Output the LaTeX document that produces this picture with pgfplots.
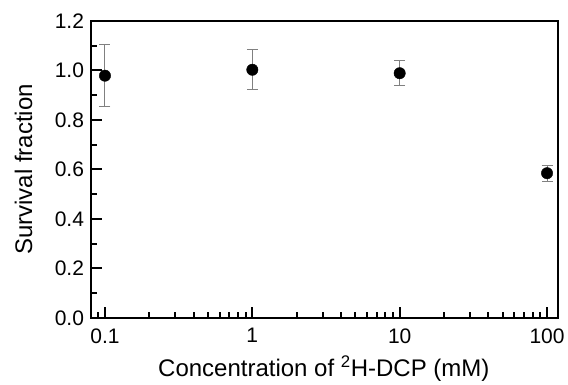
\documentclass[border=0pt]{standalone}
\usepackage{fontspec}
\setmainfont{Liberation Sans}
\usepackage{pgfplots}
\pgfplotsset{compat=1.18}
\begin{document}
\begin{tikzpicture}
\begin{axis}[
  scale only axis, width=467pt, height=297pt,
  xmode=log, xmin=0.0804, xmax=118.7, ymin=0, ymax=1.2,
  xtick={0.1,1,10,100}, xticklabels={0.1,1,10,100},
  minor xtick={0.09,0.2,0.3,0.4,0.5,0.6,0.7,0.8,0.9,2,3,4,5,6,7,8,9,20,30,40,50,60,70,80,90},
  ytick={0,0.2,0.4,0.6,0.8,1.0,1.2},
  minor ytick={0.1,0.3,0.5,0.7,0.9,1.1},
  yticklabel style={/pgf/number format/fixed, /pgf/number format/fixed zerofill, /pgf/number format/precision=1, xshift=-3.5pt},
  /pgf/number format/assume math mode=true,
  tick align=inside, tick pos=left,
  major tick length=11pt, minor tick length=5.5pt,
  axis line style={line width=2pt},
  every tick/.style={black, line width=2pt},
  tick label style={font=\fontsize{21}{24}\selectfont},
  xticklabel style={yshift=-7pt},
  label style={font=\fontsize{24}{28}\selectfont},
  xlabel={Concentration of \textsuperscript{2}H-DCP (mM)},
  ylabel={Survival fraction},
  xlabel style={at={(axis description cs:0.4985,-0.197)}, anchor=base},
  ylabel style={at={(axis description cs:-0.126,0.5)}, anchor=base},
  clip=false,
]
\addplot[only marks, mark=*, mark size=5.7pt, black,
  error bars/.cd, y dir=both, y explicit,
  error bar style={gray, line width=1pt},
  error mark options={gray, line width=1pt, mark size=5.5pt, rotate=90}]
  coordinates {
  (0.1,0.979) +- (0,0.126)
  (1,1.003) +- (0,0.081)
  (10,0.989) +- (0,0.050)
  (100,0.585) +- (0,0.033)
  };
\path (axis description cs:-0.1949,-0.2256) rectangle (axis description cs:1.0214,1.0707);
\end{axis}
\end{tikzpicture}
\end{document}
